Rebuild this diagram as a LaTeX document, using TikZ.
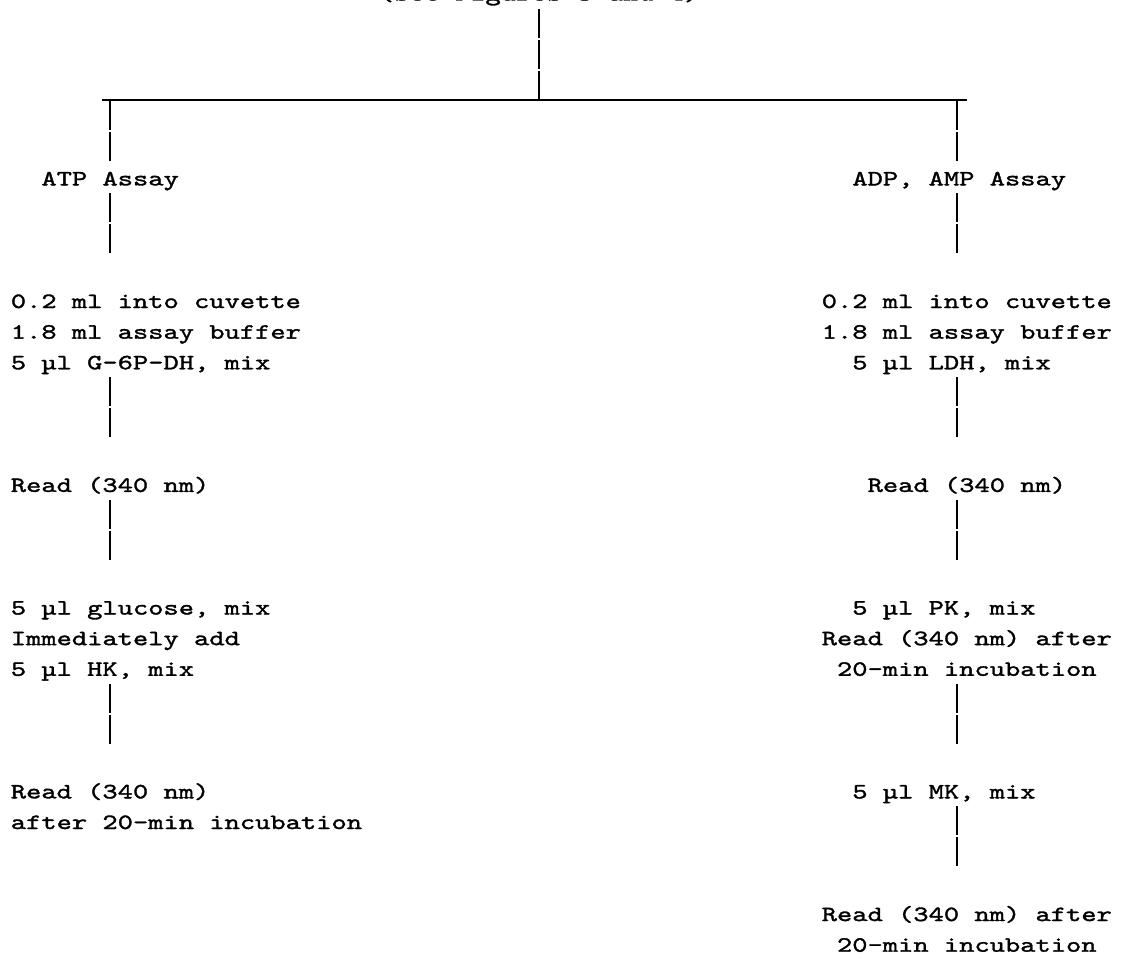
\documentclass[tikz,border=0pt]{standalone}
\usepackage{fontspec}
\setmonofont{lmmono10-regular.otf}[FakeStretch=1.335,FakeBold=1.5]
\usetikzlibrary{positioning}

\begin{document}
\begin{tikzpicture}[x=0.02cm,y=-0.02cm,
    every node/.style={font=\ttfamily\fontsize{12.4pt}{17.44pt}\selectfont, inner sep=0pt},
    lft/.style={anchor=base west, align=left},
    rule/.style={line width=1.15pt},
    typed/.style={rule, dash pattern=on 0.58cm off 0.04cm}]
    \useasboundingbox (0,0) rectangle (1122,959);
    \clip (0,0) rectangle (1122,959);

    % Sample (cut off at the top)
    \node[anchor=base] (src) at (539,0.5) {(see Figures 3 and 4)};
    \coordinate (barL) at (102,100);
    \coordinate (barR) at (967,100);
    \coordinate (colL) at (110,0);
    \coordinate (colR) at (957,0);
    \draw[typed] (src.base) ++(0,8.5) -- (src.base |- barL);
    \draw[rule] (barL) -- (barR);

    % ATP assay
    \node[lft] (atp) at (41.1,185.4) {ATP Assay};
    \node[lft] (mixL) at (10.5,369.3) {0.2 ml into cuvette\\1.8 ml assay buffer\\5 µl G-6P-DH, mix};
    \node[lft] (readL) at (10.5,491.9) {Read (340 nm)};
    \node[lft] (hk) at (10.5,675.8) {5 µl glucose, mix\\Immediately add\\5 µl HK, mix};
    \node[lft] (endL) at (10.5,829) {Read (340 nm)\\after 20-min incubation};

    \draw[typed] (colL |- barL) ++(0,1.5) -- ++(0,60);
    \draw[typed] (colL |- atp.base) ++(0,8) -- ++(0,60);
    \draw[typed] (colL |- mixL.base) ++(0,8) -- ++(0,60);
    \draw[typed] (colL |- readL.base) ++(0,8) -- ++(0,60);
    \draw[typed] (colL |- hk.base) ++(0,8) -- ++(0,60);

    % ADP, AMP assay
    \node[lft] (adp) at (852,185.4) {ADP, AMP Assay};
    \node[lft] (mixR) at (821.4,369.3) {0.2 ml into cuvette\\1.8 ml assay buffer\\\phantom{00}5 µl LDH, mix};
    \node[lft] (readR) at (867.3,491.9) {Read (340 nm)};
    \node[lft] (pk) at (821.4,675.8) {\phantom{00}5 µl PK, mix\\Read (340 nm) after\\\phantom{0}20-min incubation};
    \node[lft] (mk) at (852,798.4) {5 µl MK, mix};
    \node[lft] (endR) at (821.4,951.7) {Read (340 nm) after\\\phantom{0}20-min incubation};

    \draw[typed] (colR |- barR) ++(0,1.5) -- ++(0,60);
    \draw[typed] (colR |- adp.base) ++(0,8) -- ++(0,60);
    \draw[typed] (colR |- mixR.base) ++(0,8) -- ++(0,60);
    \draw[typed] (colR |- readR.base) ++(0,8) -- ++(0,60);
    \draw[typed] (colR |- pk.base) ++(0,8) -- ++(0,60);
    \draw[typed] (colR |- mk.base) ++(0,8) -- ++(0,60);
\end{tikzpicture}
\end{document}
